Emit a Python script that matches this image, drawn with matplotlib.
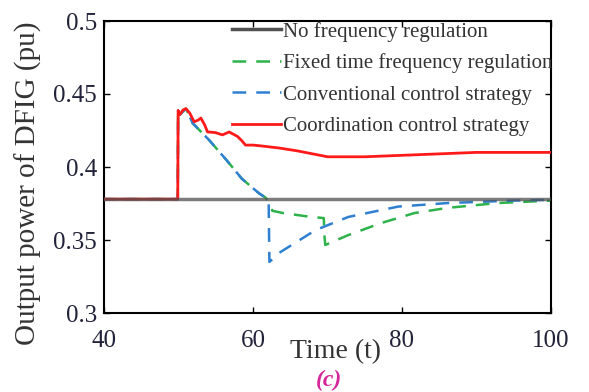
import matplotlib
matplotlib.use("Agg")
import matplotlib.pyplot as plt
from matplotlib.lines import Line2D

# ---- data ----
t_none = [40, 100]
p_none = [0.378, 0.378]

t_fixed = [40, 49.9, 49.95, 50.2, 51.0, 51.9, 54.1, 56.4, 58.5, 60.8, 61.7, 62.2,
           62.6, 64.0, 67.5, 69.5, 69.6, 69.7, 72.8, 77.2, 81.7, 86.1, 92.8, 100]
p_fixed = [0.378, 0.378, 0.4387, 0.436, 0.440, 0.430, 0.4185, 0.405, 0.392, 0.382, 0.379, 0.375,
           0.370, 0.3685, 0.366, 0.365, 0.352, 0.3466, 0.3534, 0.3616, 0.3685, 0.372, 0.3753, 0.377]

t_conv = [40, 49.9, 49.95, 50.2, 51.0, 51.9, 54.1, 56.4, 58.5, 60.8, 61.7, 62.1,
          62.2, 63.7, 68.4, 72.8, 79.5, 86.1, 95, 100]
p_conv = [0.378, 0.378, 0.4387, 0.436, 0.440, 0.430, 0.4185, 0.405, 0.392, 0.382, 0.379, 0.377,
          0.335, 0.3418, 0.3568, 0.3658, 0.3729, 0.3753, 0.377, 0.3775]

t_coord = [40, 49.9, 49.95, 50.2, 50.6, 51.0, 51.5, 52.1, 52.6, 53.0, 53.5, 53.9, 54.5, 55.0,
           55.9, 56.8, 57.9, 58.5, 59.0, 60.0, 61.0, 63.5, 66, 68, 70, 75, 80, 85, 90, 95, 100]
p_coord = [0.378, 0.378, 0.4387, 0.436, 0.439, 0.440, 0.437, 0.431, 0.432, 0.4335, 0.429, 0.424,
           0.4238, 0.4235, 0.422, 0.424, 0.421, 0.418, 0.415, 0.415, 0.4145, 0.413, 0.411, 0.409,
           0.407, 0.407, 0.408, 0.409, 0.41, 0.41, 0.41]

labels = ["No frequency regulation", "Fixed time frequency regulation",
          "Conventional control strategy", "Coordination control strategy"]
x_ticks = [40, 60, 80, 100]
y_ticks = [0.3, 0.35, 0.4, 0.45, 0.5]
y_ticklabels = ["0.3", "0.35", "0.4", "0.45", "0.5"]

plt.rcParams['font.family'] = ['Liberation Serif', 'DejaVu Serif']

fig = plt.figure(figsize=(5.89, 3.92), dpi=100)
ax = fig.add_axes([104/589, 1-313/392, (551-104)/589, (313-21)/392])

ax.plot(t_fixed, p_fixed, color='#2db34a', lw=1.8, linestyle=(0, (5.5, 4)), zorder=2)
ax.plot(t_conv, p_conv, color='#2f80d0', lw=1.8, linestyle=(2.0, (5.5, 4)), zorder=3)
ax.plot(t_coord, p_coord, color='#ff1a1a', lw=2.0, zorder=4)
ax.plot(t_none, p_none, color='#505050', lw=2.5, alpha=0.75, zorder=5)

handles = [Line2D([], [], color='#505050', lw=2.5),
           Line2D([], [], color='#2db34a', lw=1.8, dashes=(5.5, 4)),
           Line2D([], [], color='#2f80d0', lw=1.8, dashes=(5.5, 4)),
           Line2D([], [], color='#ff1a1a', lw=2.0)]
leg = ax.legend(handles, labels, loc='upper left', bbox_to_anchor=(0.286, 0.997),
                frameon=False, prop={'size': 15}, handlelength=2.35, handletextpad=0.1,
                labelspacing=0.56, borderpad=0.0, borderaxespad=0.0)
for txt in leg.get_texts():
    txt.set_color('#333333')

ax.set_xlim(40, 100)
ax.set_ylim(0.3, 0.5)
ax.set_xticks(x_ticks)
ax.set_yticks(y_ticks)
ax.set_yticklabels(y_ticklabels)
ax.tick_params(direction='in', length=4, width=1, top=True, right=True,
               labelsize=18, labelcolor='#22223a', pad=5)
ax.tick_params(axis='x', pad=12)
for s in ax.spines.values():
    s.set_linewidth(1.5)

fig.text(28/589, 1-183/392, "Output power of DFIG (pu)", fontsize=21, color='#333333',
         rotation=90, ha='center', va='center')
fig.text(335/589, 1-352/392, "Time (t)", fontsize=20, color='#333333', ha='center', va='center')
fig.text(329/589, 1-380/392, "(c)", fontsize=17, color='#d4279a', ha='center', va='center',
         fontweight='bold', fontstyle='italic')

fig.savefig("out.png", dpi=100)
